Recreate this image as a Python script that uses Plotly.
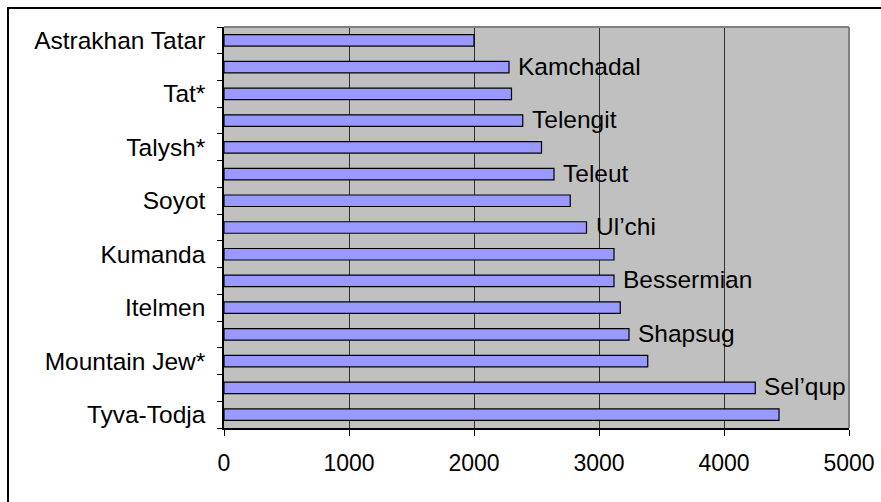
import plotly.graph_objects as go

# Population figures for small peoples, listed top to bottom
groups = [
    "Astrakhan Tatar", "Kamchadal", "Tat*", "Telengit", "Talysh*",
    "Teleut", "Soyot", "Ul’chi", "Kumanda", "Bessermian",
    "Itelmen", "Shapsug", "Mountain Jew*", "Sel’qup", "Tyva-Todja",
]
population = [
    2000, 2280, 2300, 2390, 2540,
    2640, 2770, 2900, 3120, 3120,
    3170, 3240, 3390, 4250, 4440,
]
x_ticks = [0, 1000, 2000, 3000, 4000, 5000]

FONT = "Liberation Sans, Arial, sans-serif"
LABEL_SIZE = 24.5

fig = go.Figure(
    go.Bar(
        x=population,
        y=groups,
        orientation="h",
        marker=dict(color="#9999FF", line=dict(color="black", width=1.2)),
        hoverinfo="x+y",
    )
)

# Every second group is named on the axis, the rest beside their bars
axis_text = [g if i % 2 == 0 else "" for i, g in enumerate(groups)]
for i, (g, v) in enumerate(zip(groups, population)):
    if i % 2 == 1:
        fig.add_annotation(
            x=v, y=g, text=g, showarrow=False,
            xanchor="left", yanchor="middle", xshift=7, yshift=1,
            font=dict(family=FONT, size=LABEL_SIZE, color="black"),
        )

fig.update_layout(
    template="none",
    width=881,
    height=502,
    margin=dict(l=224, r=32, t=27, b=74, pad=0),
    paper_bgcolor="white",
    plot_bgcolor="#C0C0C0",
    bargap=0.57,
    showlegend=False,
    font=dict(family=FONT, size=23, color="black"),
    xaxis=dict(
        automargin=False,
        range=[0, 5000],
        tickvals=x_ticks,
        ticktext=[str(t) for t in x_ticks],
        showgrid=True,
        gridcolor="#303030",
        gridwidth=1,
        zeroline=False,
        showline=True,
        linecolor="black",
        linewidth=1.5,
        ticks="outside",
        ticklen=6,
        tickwidth=1,
        tickcolor="black",
        ticklabelstandoff=8,
        tickfont=dict(family=FONT, size=23, color="black"),
    ),
    yaxis=dict(
        automargin=False,
        type="category",
        categoryorder="array",
        categoryarray=groups,
        autorange="reversed",
        tickvals=groups,
        ticktext=axis_text,
        tickson="boundaries",
        ticks="outside",
        ticklen=5,
        tickwidth=1,
        tickcolor="black",
        showgrid=False,
        zeroline=False,
        showline=True,
        linecolor="black",
        linewidth=1.5,
        ticklabelstandoff=12,
        tickfont=dict(family=FONT, size=LABEL_SIZE, color="black"),
    ),
    shapes=[
        # grey frame on top and right of the plotting area
        dict(type="line", xref="paper", yref="paper", x0=0, x1=1, y0=1, y1=1,
             line=dict(color="#808080", width=2), layer="above"),
        dict(type="line", xref="paper", yref="paper", x0=1, x1=1, y0=0, y1=1,
             line=dict(color="#808080", width=2), layer="above"),
        # outer chart border
        dict(type="rect", xref="paper", yref="paper",
             x0=-0.3456, x1=1.07, y0=-0.21, y1=1.0474,
             line=dict(color="black", width=2), fillcolor="rgba(0,0,0,0)",
             layer="above"),
    ],
)

fig.write_html("out.html")
